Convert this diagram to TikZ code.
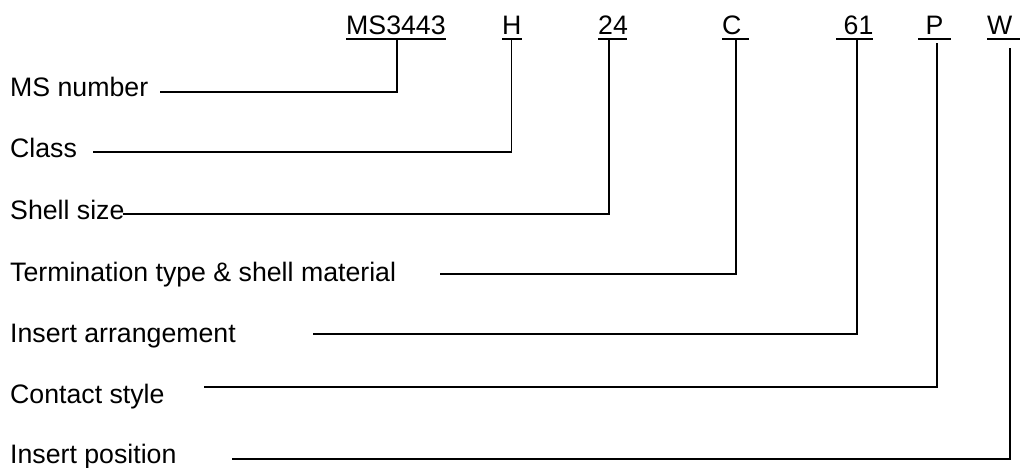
\documentclass[tikz,border=0pt]{standalone}
\usepackage{fontspec}
\setmainfont{Liberation Sans}
\begin{document}
\begin{tikzpicture}[x=1pt,y=-1pt,
  txt/.style={anchor=base west,inner sep=0pt,font=\fontsize{26.7}{32}\selectfont},
  conn/.style={line width=1.6pt,line join=miter},
  uline/.style={line width=1.6pt}]
\useasboundingbox (0,0) rectangle (1021,468);
% top code parts
\node[txt] (ms) at (346,35) {MS3443};
\node[txt] (h)  at (502,35) {H};
\node[txt] (sz) at (598,35) {24};
\node[txt] (c)  at (722,35) {C};
\node[txt] (ar) at (843.5,35) {61};
\node[txt] (p)  at (925.5,35) {P};
\node[txt] (w)  at (987,35) {W};
% underlines
\draw[uline] (346,39) -- (446,39);
\draw[uline] (502,39) -- (522,39);
\draw[uline] (598,39) -- (627,39);
\draw[uline] (722,39) -- (749,39);
\draw[uline] (836,39) -- (873,39);
\draw[uline] (918,39) -- (951,39);
\draw[uline] (987,39) -- (1020,39);
% labels
\node[txt] (l1) at (10,96.7)  {MS number};
\node[txt] (l2) at (10,157.3) {Class};
\node[txt] (l3) at (10,219.3) {Shell size};
\node[txt] (l4) at (10,281.7) {Termination type \& shell material};
\node[txt] (l5) at (10,342.3) {Insert arrangement};
\node[txt] (l6) at (10,403.3) {Contact style};
\node[txt] (l7) at (10,463)   {Insert position};
% connector ends
\coordinate (s1) at (160,92);   \coordinate (t1) at (397,39);
\coordinate (s2) at (93,152);   \coordinate (t2) at (511.5,39);
\coordinate (s3) at (123,214);  \coordinate (t3) at (609,39);
\coordinate (s4) at (440,274);  \coordinate (t4) at (736,39);
\coordinate (s5) at (313,334);  \coordinate (t5) at (857,39);
\coordinate (s6) at (204,387);  \coordinate (t6) at (937,43);
\coordinate (s7) at (232,459);  \coordinate (t7) at (1010,48);
\draw[conn] (s1) -| (t1);
\draw[conn] (s2) -| (t2);
\draw[conn] (s3) -| (t3);
\draw[conn] (s4) -| (t4);
\draw[conn] (s5) -| (t5);
\draw[conn] (s6) -| (t6);
\draw[conn] (s7) -| (t7);
\end{tikzpicture}
\end{document}
